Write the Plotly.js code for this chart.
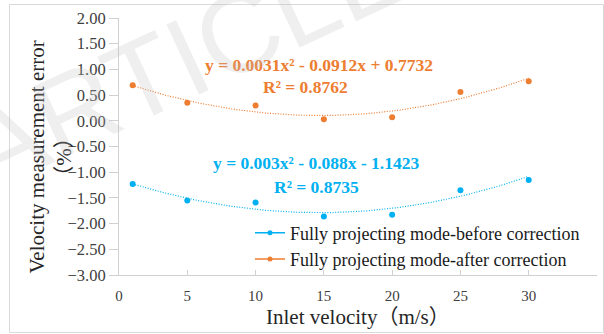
<!DOCTYPE html>
<html>
<head>
<meta charset="utf-8">
<script src="https://cdn.plot.ly/plotly-3.0.1.min.js"></script>
<style>html,body{margin:0;padding:0;background:#fff;}#chart{width:604px;height:334px;}</style>
</head>
<body>
<div id="chart"></div>
<script>
// ---- data ----
var inletVelocity = [1, 5, 10, 15, 20, 25, 30];
var errorBefore = [-1.23, -1.55, -1.59, -1.86, -1.83, -1.35, -1.15];
var errorAfter = [0.69, 0.35, 0.30, 0.03, 0.07, 0.56, 0.77];
// trendline coefficients shown on the chart (a x^2 + b x + c)
var fitBefore = [0.003, -0.088, -1.1423];
var fitAfter = [0.0031, -0.0912, 0.7732];
var r2Before = "0.8735";
var r2After = "0.8762";
var seriesNames = ["Fully projecting mode-before correction", "Fully projecting mode-after correction"];
var xTicks = [0, 5, 10, 15, 20, 25, 30, 35];

var blue = "#00B0F0", orange = "#ED7D31";
var serif = "Liberation Serif, Times New Roman, Noto Sans CJK SC, serif";

function curve(coef, xmin, xmax) {
  var xs = [], ys = [];
  var n = 120;
  for (var i = 0; i <= n; i++) {
    var x = xmin + (xmax - xmin) * i / n;
    xs.push(x);
    ys.push(coef[0] * x * x + coef[1] * x + coef[2]);
  }
  return {x: xs, y: ys};
}
var xmin = inletVelocity[0], xmax = inletVelocity[inletVelocity.length - 1];
var cb = curve(fitBefore, xmin, xmax), ca = curve(fitAfter, xmin, xmax);

function eqText(c) {
  function t(v, first) {
    var s = Math.abs(v).toString();
    if (first) return (v < 0 ? "-" : "") + s;
    return (v < 0 ? " - " : " + ") + s;
  }
  return "y = " + t(c[0], true) + "x²" + t(c[1]) + "x" + t(c[2]);
}

var dotted = "1px,1.6px";
var traces = [
  {x: cb.x, y: cb.y, mode: "lines", line: {color: blue, width: 1.2, dash: dotted}, showlegend: false, hoverinfo: "skip"},
  {x: ca.x, y: ca.y, mode: "lines", line: {color: orange, width: 1.2, dash: dotted}, showlegend: false, hoverinfo: "skip"},
  {x: inletVelocity, y: errorBefore, mode: "markers", marker: {color: blue, size: 6}, showlegend: false},
  {x: inletVelocity, y: errorAfter, mode: "markers", marker: {color: orange, size: 6}, showlegend: false},
  {x: [null], y: [null], mode: "lines+markers", name: seriesNames[0], line: {color: blue, width: 1.5}, marker: {color: blue, size: 5}},
  {x: [null], y: [null], mode: "lines+markers", name: seriesNames[1], line: {color: orange, width: 1.5}, marker: {color: orange, size: 5}}
];

var L = 119, R = 597, T = 18, B = 275, W = 604, H = 334;
function px(x) { return (x - L) / (R - L); }
function py(y) { return (B - y) / (B - T); }
function ann(x, y, text, font, extra) {
  var a = {xref: "paper", yref: "paper", x: px(x), y: py(y), xanchor: "center", yanchor: "middle",
           text: text, showarrow: false, font: font};
  for (var k in (extra || {})) a[k] = extra[k];
  return a;
}

var layout = {
  width: W, height: H,
  margin: {l: L, r: W - R, t: T, b: H - B},
  paper_bgcolor: "#fff", plot_bgcolor: "#fff",
  font: {family: serif, color: "#262626"},
  showlegend: true,
  legend: {x: px(250), y: py(246), xanchor: "left", yanchor: "middle", bgcolor: "rgba(0,0,0,0)",
           font: {family: serif, size: 18, color: "#1a1a1a"}, tracegroupgap: 0, itemwidth: 30},
  xaxis: {range: [0, 35], tickvals: xTicks, ticktext: xTicks.map(String), showgrid: false, zeroline: false,
          showline: true, linecolor: "#d0d0d0", linewidth: 1, ticks: "inside", ticklen: 5, tickcolor: "#d0d0d0",
          ticklabelstandoff: 7, tickfont: {family: serif, size: 15, color: "#404040"}},
  yaxis: {range: [-3, 2], dtick: 0.5, tick0: -3, tickformat: ".2f", showgrid: false, zeroline: false,
          showline: true, linecolor: "#d0d0d0", linewidth: 1, ticks: "outside", ticklen: 9, tickcolor: "#d0d0d0",
          tickfont: {family: serif, size: 16.5, color: "#404040"}},
  annotations: [
    ann(319, 65, "<b>" + eqText(fitAfter) + "</b>", {family: serif, size: 17.5, color: orange}),
    ann(305, 87, "<b>R² = " + r2After + "</b>", {family: serif, size: 17.5, color: orange}),
    ann(316, 163, "<b>" + eqText(fitBefore) + "</b>", {family: serif, size: 17.5, color: blue}),
    ann(316, 187, "<b>R² = " + r2Before + "</b>", {family: serif, size: 17.5, color: blue}),
    ann(358, 317, "Inlet velocity（m/s）", {family: serif, size: 21, color: "#262626"}),
    ann(49.5, 157, "Velocity measurement error<br>（%）", {family: serif, size: 21, color: "#262626"}, {textangle: -90}),
    ann(185, 58, "ARTICLE", {family: "Liberation Sans, Arial, sans-serif", size: 112, color: "rgba(190,190,190,0.25)"}, {textangle: -25})
  ],
  shapes: [
    {type: "rect", xref: "paper", yref: "paper", x0: px(9.5), x1: px(603.5), y0: py(332.5), y1: py(4.5),
     line: {color: "#d9d9d9", width: 1}, fillcolor: "rgba(0,0,0,0)", layer: "below"}
  ]
};

Plotly.newPlot("chart", traces, layout, {displayModeBar: false, staticPlot: true});
</script>
</body>
</html>
